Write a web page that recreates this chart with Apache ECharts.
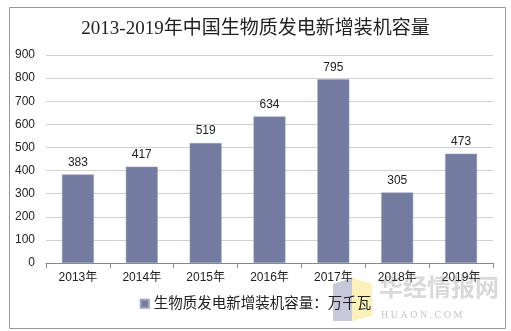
<!DOCTYPE html>
<html><head><meta charset="utf-8">
<script src="https://cdn.jsdelivr.net/npm/echarts@6/dist/echarts.min.js"></script>
<style>html,body{margin:0;padding:0;background:#fff}#c{width:511px;height:331px}</style>
</head><body><div id="c"></div>
<script>
var categories = ['2013年','2014年','2015年','2016年','2017年','2018年','2019年'];
var values = [383, 417, 519, 634, 795, 305, 473];
var seriesName = '生物质发电新增装机容量：万千瓦';
var titleText = '2013-2019年中国生物质发电新增装机容量';

var chart = echarts.init(document.getElementById('c'), null, {renderer:'canvas'});
chart.setOption({
  animation: false,
  backgroundColor: '#fff',
  title: {
    text: titleText, left: 'center', top: 15,
    textStyle: {fontFamily: 'Liberation Serif, Noto Sans CJK SC', fontSize: 19, fontWeight: 'normal', color: '#222'}
  },
  graphic: [
    {type:'rect', left: 7, top: 5, shape:{width: 496, height: 321}, style:{fill:'none', stroke:'#999', lineWidth:1}, silent:true},
    {type:'polygon', shape:{points:[[333,284],[352,278],[352,321],[333,321]]}, style:{fill:'rgba(130,135,175,0.45)'}, silent:true, z:-1},
    {type:'polygon', shape:{points:[[352,278],[372,284],[372,316],[352,321]]}, style:{fill:'rgba(250,225,120,0.5)'}, silent:true, z:-1},
    {type:'text', left: 379, top: 275, style:{text:'华经情报网', fill:'rgba(170,170,170,0.45)', font:'bold 24px "Noto Sans CJK SC"'}, silent:true},
    {type:'text', left: 381, top: 310, style:{text:'H U A O N . C O M', fill:'rgba(160,160,160,0.6)', font:'10px "Liberation Serif"'}, silent:true}
  ],
  legend: {
    bottom: 15, left: 'center',
    itemWidth: 8, itemHeight: 8, itemGap: 6,
    icon: 'rect',
    textStyle: {fontFamily: 'Liberation Serif, Noto Sans CJK SC', fontSize: 14.5, color: '#222'},
    data: [seriesName]
  },
  grid: {left: 46, right: 18, top: 55, bottom: 68},
  xAxis: {
    type: 'category', data: categories,
    axisLine: {lineStyle: {color: '#888'}},
    axisTick: {show: true, alignWithLabel: false, length: 5, lineStyle:{color:'#888'}},
    axisLabel: {color: '#222', fontSize: 12, fontFamily: 'Liberation Sans, Noto Sans CJK SC', margin: 9}
  },
  yAxis: {
    type: 'value', min: 0, max: 900, interval: 100,
    axisLine: {show: false}, axisTick: {show: false},
    splitLine: {lineStyle: {color: '#d0d0d0'}},
    axisLabel: {color: '#222', fontSize: 12, fontFamily: 'Liberation Sans', margin: 11}
  },
  series: [{
    name: seriesName, type: 'bar', data: values, barWidth: '50%',
    itemStyle: {color: '#737ba0', borderColor: '#9aa0bd', borderWidth: 0.5},
    label: {show: true, position: 'top', color: '#222', fontSize: 12, fontFamily: 'Liberation Sans', distance: 6}
  }]
});
</script></body></html>
